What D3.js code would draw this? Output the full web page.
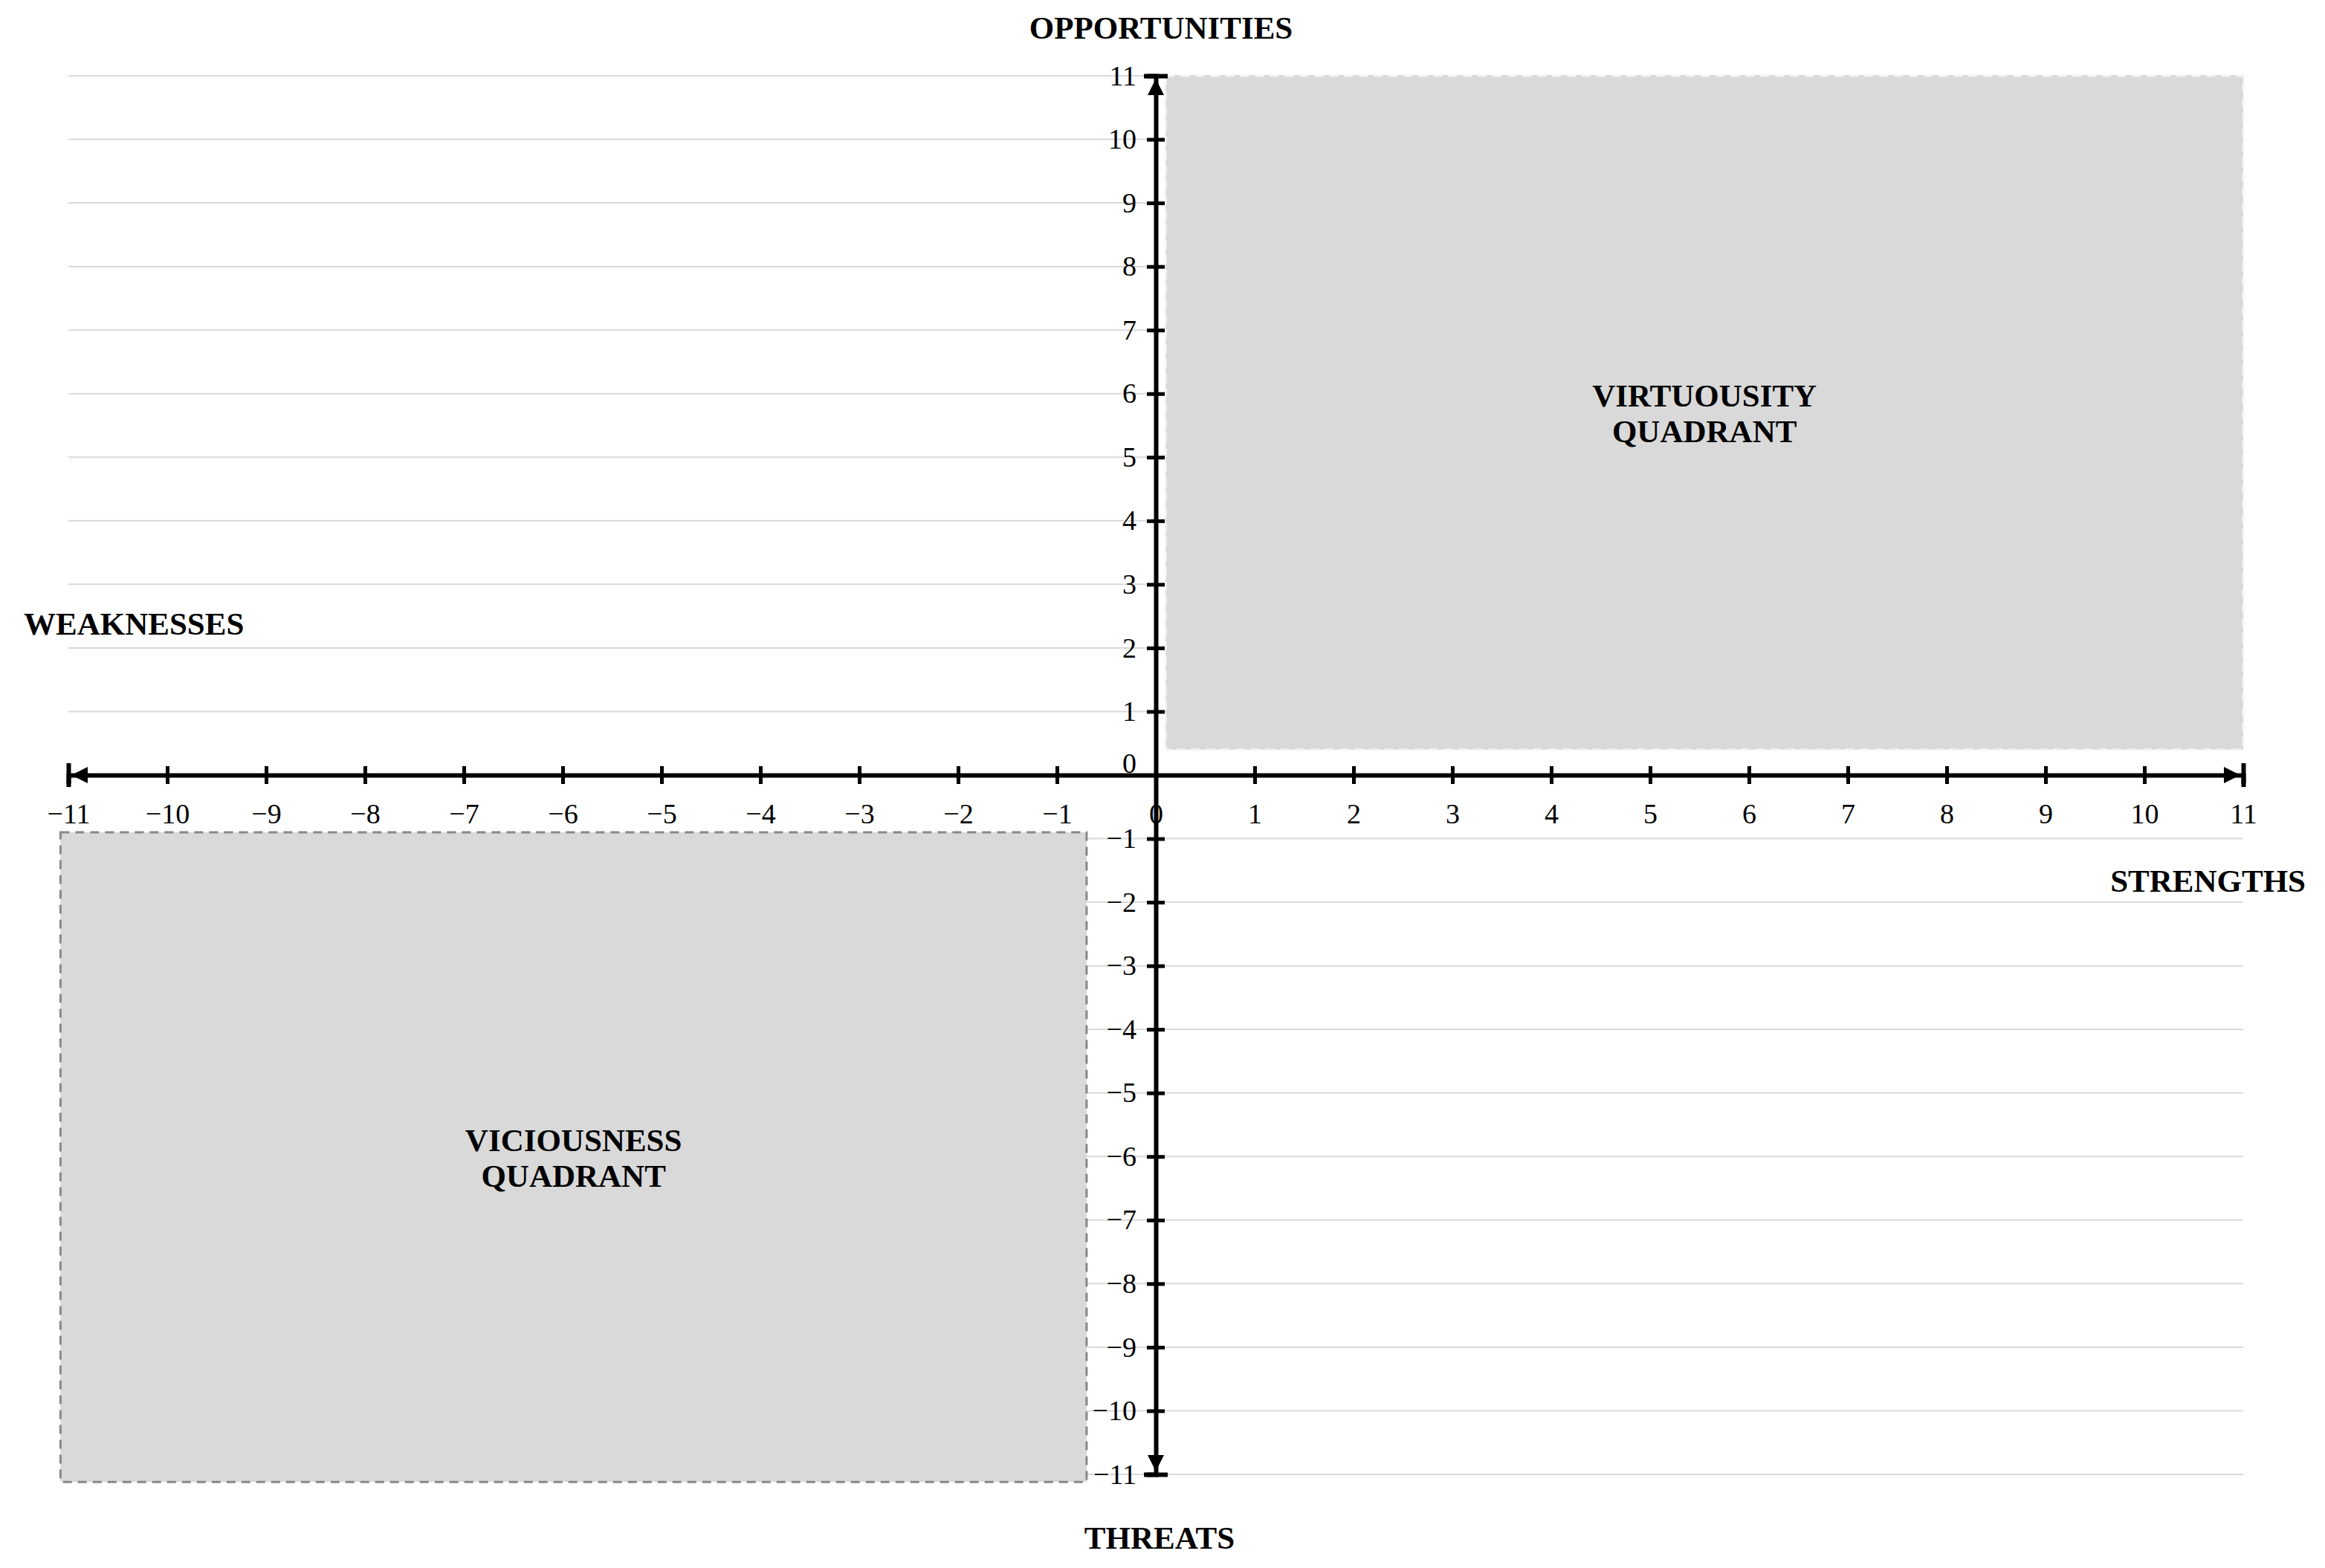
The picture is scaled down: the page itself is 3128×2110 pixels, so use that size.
<!DOCTYPE html>
<html>
<head>
<meta charset="utf-8">
<script src="https://cdn.jsdelivr.net/npm/d3@7"></script>
<style>
  body { margin: 0; background: #fff; }
  text { font-family: "Liberation Serif", "DejaVu Serif", serif; }
</style>
</head>
<body>
<svg id="chart" width="3128" height="2110"></svg>
<script>
// tick values for both axes
const xTicks = d3.range(-11, 12);
const yTicks = d3.range(-11, 12);
// axis titles
const axisTitles = ["OPPORTUNITIES", "WEAKNESSES", "STRENGTHS", "THREATS"];
// shaded quadrants: [x0, x1, y0, y1] in data units
const quadrantNames = [["VIRTUOUSITY", "QUADRANT"], ["VICIOUSNESS", "QUADRANT"]];
const quadrantBoxes = [[0.1, 11, 0.4, 11], [-11.08, -0.7, -11.12, -0.9]];
const quadrantStroke = ["#f4f4f4", "#888"];

const svg = d3.select("#chart");
const x = d3.scaleLinear().domain([-11, 11]).range([92, 3018]);
const y = d3.scaleLinear().domain([-11, 11]).range([1984, 102]);
const fmt = d => d < 0 ? "\u2212" + Math.abs(d) : String(d);

// grid lines
svg.append("g").selectAll("line").data(yTicks.filter(d => d !== 0)).join("line")
  .attr("x1", x(-11)).attr("x2", x(11))
  .attr("y1", d => y(d)).attr("y2", d => y(d))
  .attr("stroke", "#d9d9d9").attr("stroke-width", 2);

// quadrant boxes
quadrantBoxes.forEach((b, i) => {
  svg.append("rect")
    .attr("x", x(b[0])).attr("y", y(b[3]))
    .attr("width", x(b[1]) - x(b[0])).attr("height", y(b[2]) - y(b[3]))
    .attr("fill", "#d9d9d9").attr("stroke", quadrantStroke[i])
    .attr("stroke-width", 3).attr("stroke-dasharray", "12,8");
  const cx = x((b[0] + b[1]) / 2), cy = y((b[2] + b[3]) / 2);
  svg.append("text").attr("x", cx).attr("y", cy - 8)
    .attr("text-anchor", "middle").attr("font-size", 43).attr("font-weight", "bold")
    .selectAll("tspan").data(quadrantNames[i]).join("tspan")
    .attr("x", cx).attr("dy", (d, j) => j === 0 ? 0 : 48).text(d => d);
});

// x axis
const gx = svg.append("g").attr("transform", `translate(0,${y(0)})`)
  .call(d3.axisBottom(x).tickValues(xTicks).tickFormat(fmt).tickSize(12).tickPadding(26));
gx.select(".domain").attr("stroke-width", 6);
gx.selectAll(".tick line").attr("y1", -12).attr("stroke-width", 5);
gx.selectAll(".tick text").attr("font-size", 38).attr("fill", "#000");
gx.selectAll(".tick").filter(d => Math.abs(d) === 11).select("line").attr("y1", -16).attr("y2", 16).attr("stroke-width", 6);
gx.selectAll(".tick").filter(d => d === 0).select("line").remove();

// y axis
const gy = svg.append("g").attr("transform", `translate(${x(0)},0)`)
  .call(d3.axisLeft(y).tickValues(yTicks).tickFormat(fmt).tickSize(12).tickPadding(14));
gy.select(".domain").attr("stroke-width", 6);
gy.selectAll(".tick line").attr("x2", 12).attr("x1", -12).attr("stroke-width", 5);
gy.selectAll(".tick text").attr("font-size", 38).attr("fill", "#000");
gy.selectAll(".tick").filter(d => Math.abs(d) === 11).select("line").attr("x1", -16).attr("x2", 16).attr("stroke-width", 6);
gy.selectAll(".tick").filter(d => d === 0).select("line").remove();
gy.selectAll(".tick").filter(d => d === 0).select("text").attr("dy", "-0.1em");

// arrowheads
const arrows = [
  [x(-11) + 4, y(0), -1, 0], [x(11) - 4, y(0), 1, 0],
  [x(0), y(11) + 4, 0, -1], [x(0), y(-11) - 4, 0, 1]
];
svg.append("g").selectAll("path").data(arrows).join("path")
  .attr("d", a => {
    const [px, py, dx, dy] = a, L = 22, W = 11;
    return `M${px},${py} L${px - dx * L - dy * W},${py - dy * L - dx * W} L${px - dx * L + dy * W},${py - dy * L + dx * W}Z`;
  }).attr("fill", "#000");

// axis titles
const titleStyle = s => s.attr("font-size", 43).attr("font-weight", "bold").attr("fill", "#000");
svg.append("text").attr("x", 1562).attr("y", 52).attr("text-anchor", "middle").text(axisTitles[0]).call(titleStyle);
svg.append("text").attr("x", 32).attr("y", 854).attr("text-anchor", "start").text(axisTitles[1]).call(titleStyle);
svg.append("text").attr("x", 3102).attr("y", 1200).attr("text-anchor", "end").text(axisTitles[2]).call(titleStyle);
svg.append("text").attr("x", 1560).attr("y", 2084).attr("text-anchor", "middle").text(axisTitles[3]).call(titleStyle);
</script>
</body>
</html>
